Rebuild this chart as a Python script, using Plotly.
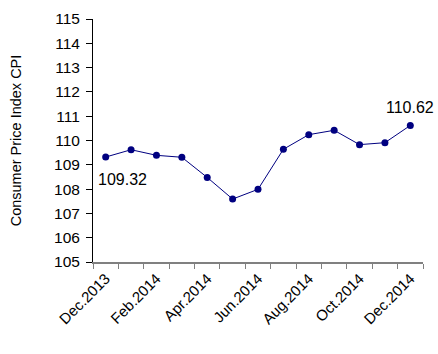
import plotly.graph_objects as go

months = ["Dec.2013", "Jan.2014", "Feb.2014", "Mar.2014", "Apr.2014", "May.2014", "Jun.2014",
          "Jul.2014", "Aug.2014", "Sep.2014", "Oct.2014", "Nov.2014", "Dec.2014"]
cpi = [109.32, 109.62, 109.39, 109.31, 108.48, 107.59, 107.99,
       109.64, 110.24, 110.42, 109.83, 109.91, 110.62]
ytick_vals = list(range(105, 116))

font = "Liberation Sans, Arial, sans-serif"
fig = go.Figure()
fig.add_trace(go.Scatter(
    x=months, y=cpi, mode="lines+markers",
    line=dict(color="#000080", width=1),
    marker=dict(color="#000080", size=7),
    showlegend=False, hoverinfo="skip"))

fig.add_annotation(x=months[0], y=cpi[0], text=f"{cpi[0]:.2f}", showarrow=False,
                   xanchor="left", yanchor="top", xshift=-10, yshift=-12,
                   font=dict(family=font, size=16, color="black"))
fig.add_annotation(x=months[-1], y=cpi[-1], text=f"{cpi[-1]:.2f}", showarrow=False,
                   xanchor="center", yanchor="bottom", xshift=0, yshift=7,
                   font=dict(family=font, size=16, color="black"))

fig.update_layout(
    width=438, height=354,
    margin=dict(l=93, r=15, t=10, b=92),
    paper_bgcolor="white", plot_bgcolor="white",
    font=dict(family=font, size=14, color="black"),
)
fig.update_xaxes(
    type="category", categoryorder="array", categoryarray=months,
    tickvals=months, ticktext=[m if i % 2 == 0 else "" for i, m in enumerate(months)],
    tickson="boundaries", ticks="outside", ticklen=5, tickcolor="#808080",
    tickangle=-45, showgrid=False, showline=True, linecolor="#808080", linewidth=2,
    tickfont=dict(family=font, size=15), range=[-0.5, 12.5],
)
fig.update_yaxes(
    range=[105, 115], tickvals=ytick_vals, ticks="outside", ticklen=6, tickcolor="black",
    showgrid=False, zeroline=False, showline=True, linecolor="black", linewidth=1,
    tickfont=dict(family=font, size=15.5), ticklabelstandoff=3,
    title=dict(text="Consumer Price Index CPI", font=dict(family=font, size=14.5), standoff=28),
)
fig.write_html("out.html")
